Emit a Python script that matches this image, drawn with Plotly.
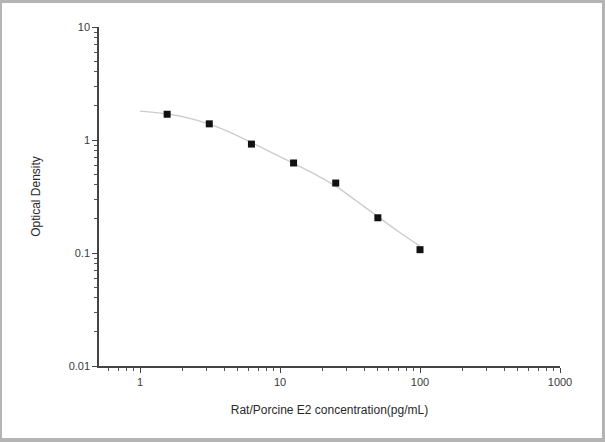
import plotly.graph_objects as go

# Standard points (concentration pg/mL, OD)
conc = [1.5625, 3.125, 6.25, 12.5, 25, 50, 100]
od = [1.69, 1.39, 0.92, 0.626, 0.416, 0.205, 0.107]

# Fitted curve
curve_x = [1.0, 1.56, 2.2, 3.125, 4.4, 6.25, 8.8, 12.5, 17.7, 25, 35, 50, 70, 100]
curve_y = [1.80, 1.70, 1.57, 1.38, 1.17, 0.95, 0.77, 0.62, 0.50, 0.39, 0.29, 0.21, 0.155, 0.115]

x_ticks = [1, 10, 100, 1000]
x_tick_labels = ["1", "10", "100", "1000"]
y_ticks = [0.01, 0.1, 1, 10]
y_tick_labels = ["0.01", "0.1", "1", "10"]

W, H = 605, 442
L, R, T, B = 99, 45, 27, 76

fig = go.Figure()
fig.add_trace(go.Scatter(x=curve_x, y=curve_y, mode="lines", line=dict(color="#cccccc", width=1.4, shape="spline"),
                         hoverinfo="skip", showlegend=False))
fig.add_trace(go.Scatter(x=conc, y=od, mode="markers", marker=dict(symbol="square", size=7, color="#111111"),
                         showlegend=False))

pw = W - L - R
ph = H - T - B
# white panel inside gray frame (paper coordinates relative to plot area)
x0 = (2 - L) / pw
x1 = (602 - L) / pw
y0 = -((438 - (T + ph)) / ph)
y1 = 1 + (T - 3) / ph
fig.add_shape(type="rect", xref="paper", yref="paper", x0=x0, x1=x1, y0=y0, y1=y1,
              fillcolor="white", line=dict(width=0), layer="below")

axis_font = dict(family="Liberation Sans, Arial, sans-serif", size=11, color="#3a3a3a")
title_font = dict(family="Liberation Sans, Arial, sans-serif", size=12, color="#2a2a2a")
fig.update_xaxes(type="log", range=[-0.293, 3], tickvals=x_ticks, ticktext=x_tick_labels,
                 showgrid=False, zeroline=False, showline=True, linecolor="#444444", linewidth=1.5,
                 ticks="outside", ticklen=5, tickcolor="#444444", tickwidth=1,
                 minor=dict(ticks="outside", ticklen=3, tickcolor="#555555", dtick="D1", showgrid=False),
                 tickfont=axis_font,
                 title=dict(text="Rat/Porcine E2 concentration(pg/mL)", font=title_font, standoff=19))
fig.update_yaxes(type="log", range=[-2, 1], tickvals=y_ticks, ticktext=y_tick_labels,
                 showgrid=False, zeroline=False, showline=True, linecolor="#444444", linewidth=1.5,
                 ticks="outside", ticklen=5, tickcolor="#444444", tickwidth=1,
                 minor=dict(ticks="outside", ticklen=3, tickcolor="#555555", dtick="D1", showgrid=False),
                 tickfont=axis_font,
                 title=dict(text="Optical Density", font=title_font, standoff=25))

fig.update_layout(width=W, height=H, margin=dict(l=L, r=R, t=T, b=B, autoexpand=False),
                  paper_bgcolor="#b4b4b4", plot_bgcolor="white", showlegend=False)

fig.write_html("out.html", config={"displayModeBar": False},
               post_script="document.body.style.margin='0';document.body.style.overflow='hidden';")
